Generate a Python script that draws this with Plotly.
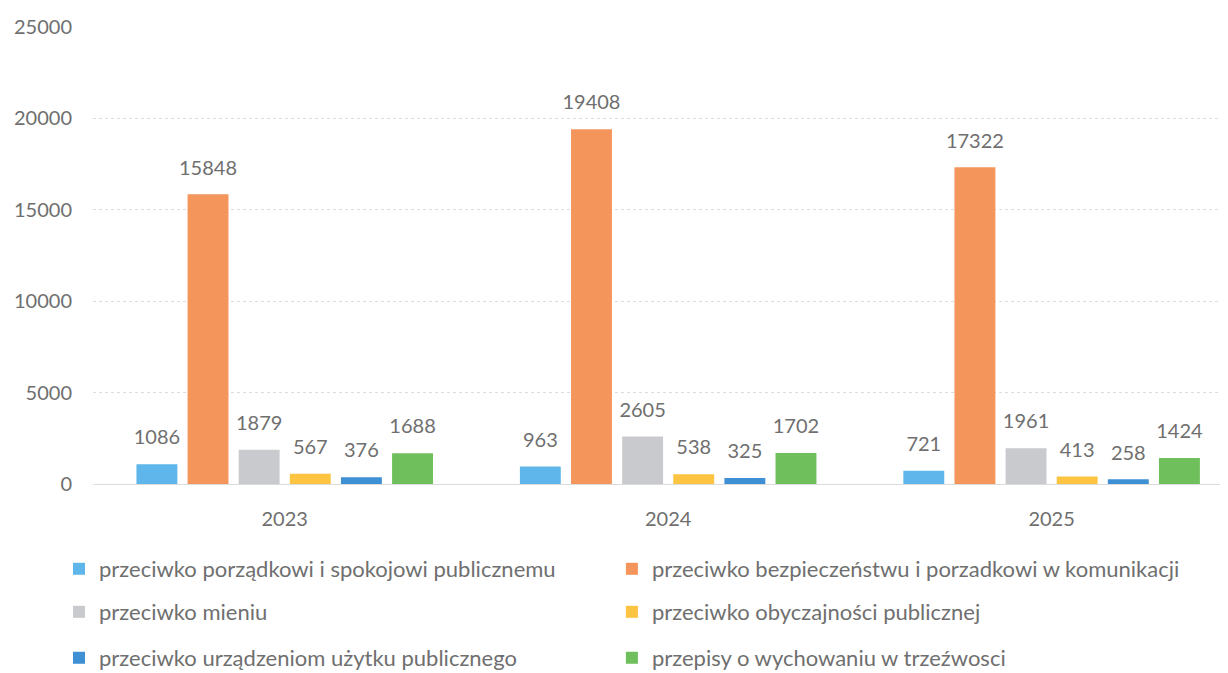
import plotly.graph_objects as go

years = ["2023", "2024", "2025"]

series_names = [
    "przeciwko porządkowi i spokojowi publicznemu",
    "przeciwko bezpieczeństwu i porzadkowi w komunikacji",
    "przeciwko mieniu",
    "przeciwko obyczajności publicznej",
    "przeciwko urządzeniom użytku publicznego",
    "przepisy o wychowaniu w trzeźwosci",
]

porzadek = [1086, 963, 721]
komunikacja = [15848, 19408, 17322]
mienie = [1879, 2605, 1961]
obyczajnosc = [567, 538, 413]
urzadzenia = [376, 325, 258]
trzezwosc = [1688, 1702, 1424]

series_values = [porzadek, komunikacja, mienie, obyczajnosc, urzadzenia, trzezwosc]
colors = ["#5fb6ea", "#f4955c", "#c9cacd", "#fcc441", "#3f8fd4", "#6fbf5c"]

TEXT = "#6f6f6f"
FONT = "Lato, Carlito, 'Open Sans', sans-serif"

# one legend per entry so the two-column grid can be laid out freely
legend_ids = ["legend", "legend2", "legend3", "legend4", "legend5", "legend6"]
legend_cols = [0.0418, 0.495]
legend_rows = [0.1564, 0.0917, 0.0226]

fig = go.Figure()
for i, (name, vals, col) in enumerate(zip(series_names, series_values, colors)):
    fig.add_trace(go.Bar(
        x=years,
        y=vals,
        name=name,
        offsetgroup=str(i),
        marker=dict(color=col, line=dict(width=0)),
        legend=legend_ids[i],
    ))
# value labels, placed with the same grouping as the bars
for i, vals in enumerate(series_values):
    fig.add_trace(go.Scatter(
        x=years,
        y=vals,
        offsetgroup=str(i),
        mode="markers+text",
        marker=dict(size=22, opacity=0),
        text=[str(v) for v in vals],
        textposition="top center",
        textfont=dict(size=20, color=TEXT, family=FONT),
        showlegend=False,
        hoverinfo="skip",
        cliponaxis=False,
    ))

legends = {}
for i, lid in enumerate(legend_ids):
    legends[lid] = dict(
        orientation="h",
        xref="container",
        x=legend_cols[i % 2],
        xanchor="left",
        yref="container",
        y=legend_rows[i // 2],
        yanchor="middle",
        font=dict(size=22, color=TEXT, family=FONT),
        bgcolor="rgba(0,0,0,0)",
    )

# the page body has an 8px margin, so the figure is 8px smaller each way
fig.update_layout(
    width=1220,
    height=665,
    margin=dict(l=85, r=0, t=19, b=189, autoexpand=False),
    paper_bgcolor="white",
    plot_bgcolor="white",
    barmode="group",
    scattermode="group",
    bargap=0.2,
    bargroupgap=0.2,
    scattergap=0.2,
    font=dict(family=FONT, color=TEXT, size=20),
    showlegend=True,
    **legends,
)

fig.update_xaxes(
    range=[-0.5, 2.46],
    showline=False,
    showgrid=False,
    ticks="",
    automargin=False,
    ticklabelstandoff=21,
    tickfont=dict(size=20, color=TEXT),
)

fig.update_yaxes(
    range=[0, 25000],
    tickvals=[0, 5000, 10000, 15000, 20000, 25000],
    ticktext=["0", "5000", "10000", "15000", "20000", "25000"],
    showgrid=True,
    gridcolor="#dcdcdc",
    griddash="dot",
    gridwidth=1,
    zeroline=True,
    zerolinecolor="#dcdcdc",
    zerolinewidth=1,
    showline=False,
    ticks="",
    automargin=False,
    ticklabelstandoff=20,
    tickfont=dict(size=20, color=TEXT),
)

fig.write_html("out.html")
